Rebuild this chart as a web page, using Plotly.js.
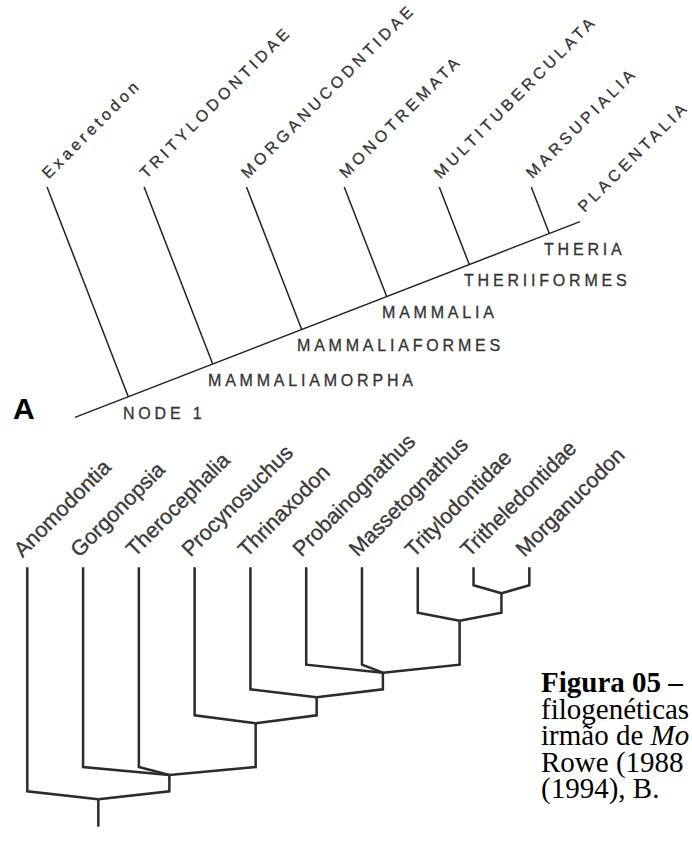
<!DOCTYPE html>
<html><head><meta charset="utf-8">
<script src="https://cdn.plot.ly/plotly-3.0.1.min.js"></script>
<style>
html,body{margin:0;padding:0;background:#fff;}
#chart{width:692px;height:847px;}
text.annotation-text[style*="font-size: 16px"]{letter-spacing:3.8px;stroke:#333;stroke-width:0.3px;}
text.annotation-text[style*="font-size: 21.5px"]{stroke:#3a3a3a;stroke-width:0.35px;}
</style>
</head><body><div id="chart"></div>
<script>
// ===== Panel A (Rowe 1988): taxa, node names, node positions along the spine =====
const taxaA  = ['Exaeretodon','TRITYLODONTIDAE','MORGANUCODNTIDAE','MONOTREMATA','MULTITUBERCULATA','MARSUPIALIA','PLACENTALIA'];
const nodesA = ['NODE 1','MAMMALIAMORPHA','MAMMALIAFORMES','MAMMALIA','THERIIFORMES','THERIA'];
const nodePosA = [128.3, 212.7, 301.7, 386.7, 469.3, 549.3];   // where each clade branches off the spine
const spineEndA = 580;                                         // tip of PLACENTALIA

// ===== Panel B (Luo 1994): taxa, clades (children) and clade depths =====
const taxaB = ['Anomodontia','Gorgonopsia','Therocephalia','Procynosuchus','Thrinaxodon',
               'Probainognathus','Massetognathus','Tritylodontidae','Tritheledontidae','Morganucodon'];
const cladeChildrenB = [[8,9],[7,'c0'],[5,6,'c1'],[4,'c2'],[3,'c3'],[1,2,'c4'],[0,'c5']];
const cladeDepthB    = [26, 53.4, 105.4, 130, 156, 207.7, 232];
const rootStemB      = 259.4;

// ---- caption text ----
const captionLines = ['<b>Figura 05 –</b>','filogenéticas','irmão de <i>Mo</i>','Rowe (1988','(1994), B.'];

// ================= layout helpers =================
const K = Math.SQRT1_2;
const fsA = 16, fsB = 21.5, fsCap = 29;
const tipYA = 187, spineStartA = 75;
function spineY(x){ return 396.7 - 0.3875*(x - 128.3); }
function rotAnchor(bx, by, fs){ const H = 1.117*fs, d = 0.212*fs; return {x: bx - K*(H-d), y: by + K*d}; }

const annotations = [];
// ---- Panel A lines ----
const ax = [], ay = [];
ax.push(spineStartA, spineEndA, null); ay.push(spineY(spineStartA), spineY(spineEndA), null);
nodePosA.forEach((px, i) => {
  const py = spineY(px);
  const tx = px - 0.3875*(py - tipYA);
  ax.push(px, tx, null); ay.push(py, tipYA, null);
  const p = rotAnchor(tx + 2, tipYA - 8, fsA);
  annotations.push({x:p.x, y:p.y, text:taxaA[i], textangle:-45, xanchor:'left', yanchor:'bottom',
    showarrow:false, borderpad:0, borderwidth:0, font:{family:'Liberation Sans', size:fsA, color:'#333'}});
  annotations.push({x:px - 5, y:py + 21.5 + 0.212*fsA, text:nodesA[i], xanchor:'left', yanchor:'bottom',
    showarrow:false, borderpad:0, borderwidth:0, font:{family:'Liberation Sans', size:fsA, color:'#333'}});
});
{
  const p = rotAnchor(spineEndA + 5, spineY(spineEndA) - 8.7, fsA);
  annotations.push({x:p.x, y:p.y, text:taxaA[6], textangle:-45, xanchor:'left', yanchor:'bottom',
    showarrow:false, borderpad:0, borderwidth:0, font:{family:'Liberation Sans', size:fsA, color:'#333'}});
}

// ---- Panel B lines ----
const leafX0 = 27.3, leafDX = 55.78, tipYB = 567.3, shoulder = 8;
const bx = [], by = [];
const cladeX = [], cladeY = [];
function refX(r){ return typeof r === 'number' ? leafX0 + leafDX*r : cladeX[+r.slice(1)]; }
function refY(r){ return typeof r === 'number' ? tipYB : cladeY[+r.slice(1)]; }
cladeChildrenB.forEach((ch, c) => {
  const nx = (refX(ch[0]) + refX(ch[ch.length-1]))/2;
  const ny = tipYB + cladeDepthB[c];
  cladeX[c] = nx; cladeY[c] = ny;
  const armY = ny - shoulder;
  ch.forEach(r => {
    const cx = refX(r), cy = refY(r);
    bx.push(cx, cx, nx, null); by.push(cy, armY, ny, null);
  });
});
const rootI = cladeChildrenB.length - 1;
bx.push(cladeX[rootI], cladeX[rootI], null); by.push(cladeY[rootI], tipYB + rootStemB, null);
taxaB.forEach((t, i) => {
  const lx = leafX0 + leafDX*i;
  const p = rotAnchor(lx - 4, tipYB - 9, fsB);
  annotations.push({x:p.x, y:p.y, text:t, textangle:-45, xanchor:'left', yanchor:'bottom',
    showarrow:false, borderpad:0, borderwidth:0, font:{family:'Liberation Sans', size:fsB, color:'#3a3a3a'}});
});

// ---- panel letters ----
annotations.push({x:13, y:419 + 0.212*30, text:'<b>A</b>', xanchor:'left', yanchor:'bottom', showarrow:false,
  borderpad:0, borderwidth:0, font:{family:'Liberation Sans', size:30, color:'#000'}});
annotations.push({x:-1, y:843 + 0.212*30, text:'<b>B</b>', xanchor:'left', yanchor:'bottom', showarrow:false,
  borderpad:0, borderwidth:0, font:{family:'Liberation Sans', size:30, color:'#000'}});

// ---- caption: one multi-line text block, first baseline at 692 ----
const capStep = 26.5, capBase = 692;
annotations.push({x:541, y:capBase - 0.891*fsCap, text:captionLines.join('<br>'), xanchor:'left', yanchor:'top',
  align:'left', showarrow:false, borderpad:0, borderwidth:0,
  font:{family:'Liberation Serif', size:fsCap, color:'#000'}});
const capIndex = annotations.length - 1;

const data = [
  {x:ax, y:ay, type:'scatter', mode:'lines', line:{color:'#222', width:1.5}, hoverinfo:'skip', showlegend:false},
  {x:bx, y:by, type:'scatter', mode:'lines', line:{color:'#2b2b2b', width:2.5}, hoverinfo:'skip', showlegend:false}
];
const layout = {
  width:692, height:847, margin:{l:0,r:0,t:0,b:0},
  paper_bgcolor:'#fff', plot_bgcolor:'#fff',
  xaxis:{range:[0,692], visible:false, fixedrange:true},
  yaxis:{range:[847,0], visible:false, fixedrange:true},
  annotations:annotations, showlegend:false
};
Plotly.newPlot('chart', data, layout, {staticPlot:true}).then(gd => {
  // tighten the caption leading to the reference's line step
  const g = gd.querySelector('.annotation[data-index="' + capIndex + '"]');
  if (g) g.querySelectorAll('tspan.line').forEach((ts, i) => ts.setAttribute('dy', (i*capStep) + 'px'));
});
</script>
</body></html>
